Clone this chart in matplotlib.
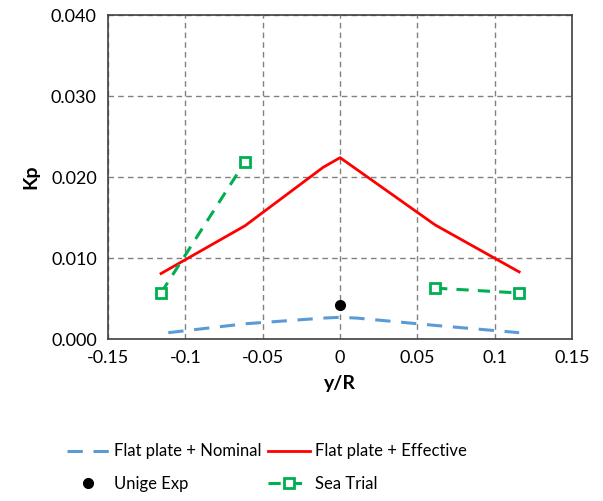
import numpy as np
import matplotlib.pyplot as plt

plt.rcParams['font.family'] = ['Lato', 'DejaVu Sans']

# y/R positions and Kp values
x_nom = [-0.111, -0.0614, -0.011, 0.0, 0.011, 0.0614, 0.1157]
kp_nom = [0.0008, 0.0019, 0.0026, 0.0027, 0.0026, 0.0017, 0.0008]

x_eff = [-0.1157, -0.0614, -0.011, 0.0, 0.0614, 0.1157]
kp_eff = [0.0081, 0.0140, 0.0212, 0.0224, 0.0141, 0.0083]

x_exp = [0.0]
kp_exp = [0.0042]

x_sea = [-0.1157, -0.0614, np.nan, 0.0614, 0.1157]
kp_sea = [0.0057, 0.0219, np.nan, 0.0063, 0.0057]

fig = plt.figure(figsize=(6.03, 5.01), dpi=100)
ax = fig.add_axes([0.179, 0.323, 0.77, 0.647])

l_nom, = ax.plot(x_nom, kp_nom, color='#5b9bd5', lw=2.2, dashes=(5, 3.5), label='Flat plate + Nominal')
l_eff, = ax.plot(x_eff, kp_eff, color='#ff0000', lw=2, label='Flat plate + Effective')
l_exp, = ax.plot(x_exp, kp_exp, 'o', color='black', ms=7, label='Unige Exp')
l_sea, = ax.plot(x_sea, kp_sea, color='#00b050', lw=2.2, dashes=(4, 3), marker='s', ms=7,
                 mfc='white', mec='#00b050', mew=2, label='Sea Trial')

ax.set_xlim(-0.15, 0.15)
ax.set_ylim(0, 0.04)
ax.set_xticks([-0.15, -0.1, -0.05, 0, 0.05, 0.1, 0.15])
ax.set_xticklabels(['-0.15', '-0.1', '-0.05', '0', '0.05', '0.1', '0.15'])
ax.set_yticks([0, 0.01, 0.02, 0.03, 0.04])
ax.set_yticklabels(['0.000', '0.010', '0.020', '0.030', '0.040'])
ax.tick_params(length=0, labelsize=13, pad=8)
ax.grid(True, color='#808080', ls=(0, (4, 3)), lw=1)
for s in ax.spines.values():
    s.set_color('#404040')
    s.set_linewidth(1.2)

ax.set_xlabel('y/R', fontsize=14, fontweight='bold', labelpad=6)
ax.set_ylabel('Kp', fontsize=14, fontweight='bold', labelpad=8)

fig.legend([l_nom, l_exp, l_eff, l_sea],
           ['Flat plate + Nominal', 'Unige Exp', 'Flat plate + Effective', 'Sea Trial'],
           ncol=2, loc='upper left', bbox_to_anchor=(0.087, 0.145), frameon=False,
           fontsize=12, handlelength=2.5, handletextpad=0.3, columnspacing=0.4,
           labelspacing=1.0)

fig.savefig('out.png', dpi=100)
